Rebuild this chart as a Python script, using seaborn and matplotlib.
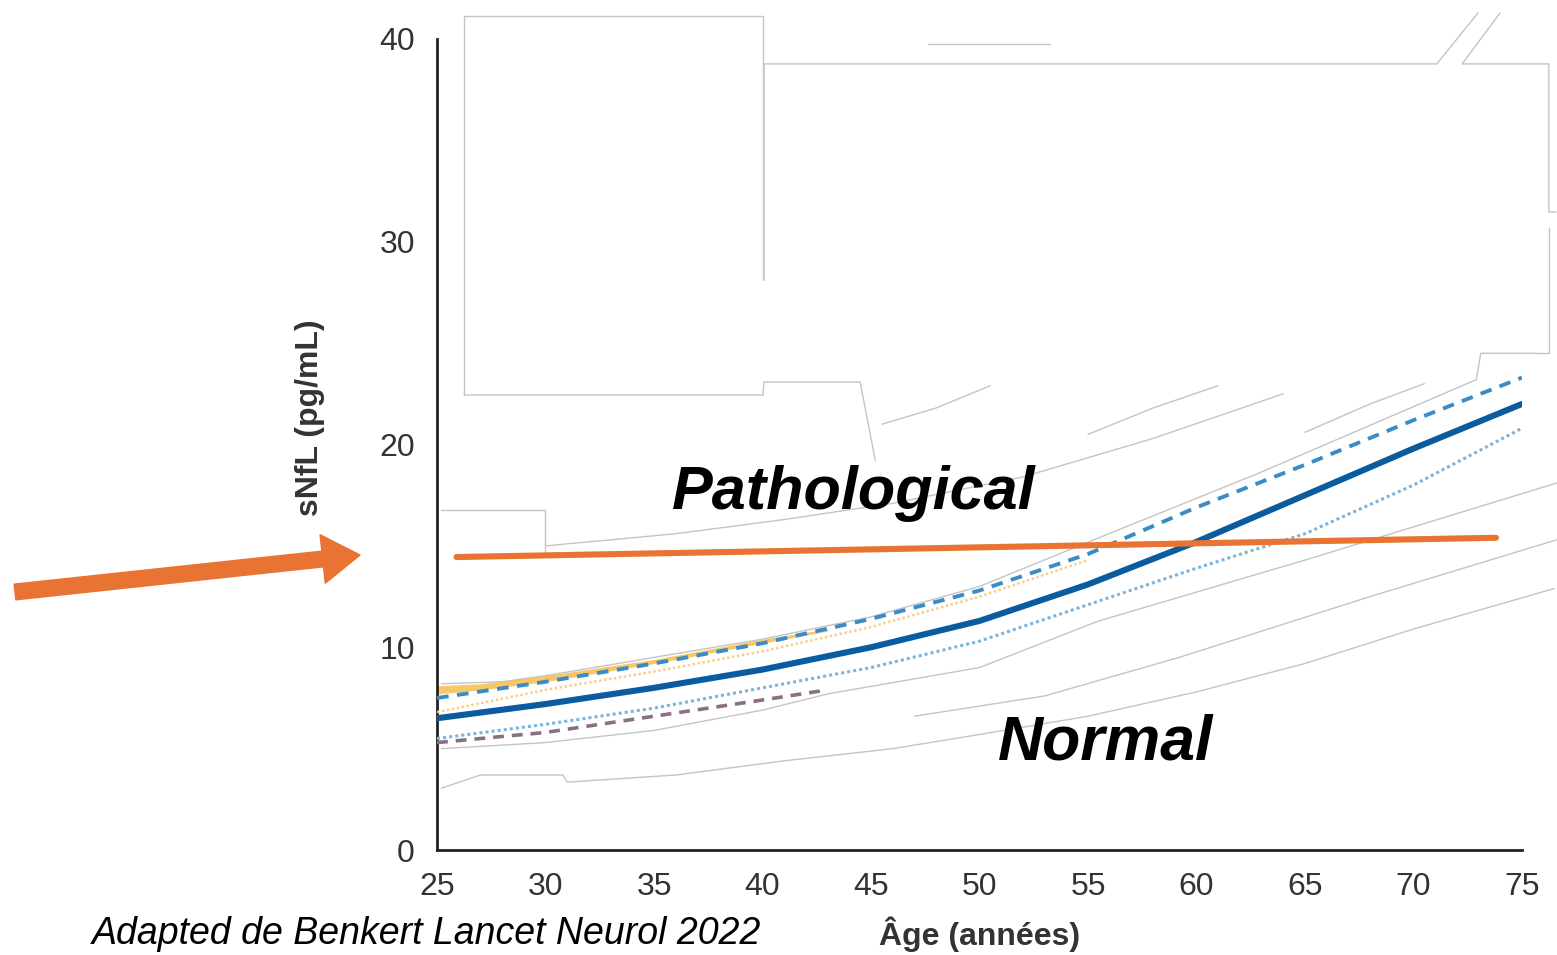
import pandas as pd
import matplotlib.pyplot as plt
import seaborn as sns

# Reference curves, sNfL in pg/mL by age
age = [25, 30, 35, 40, 45, 50, 55, 60, 65, 70, 75]
snfl_median = [6.5, 7.2, 8.0, 8.9, 10.0, 11.3, 13.1, 15.2, 17.5, 19.8, 22.0]
snfl_upper = [7.5, 8.3, 9.2, 10.2, 11.4, 12.8, 14.6, 16.9, 19.0, 21.2, 23.3]
snfl_lower = [5.5, 6.2, 7.0, 8.0, 9.0, 10.3, 12.1, 13.9, 15.6, 18.0, 20.8]

age_short = [25, 30, 35, 40, 43]
snfl_mauve = [5.3, 5.8, 6.6, 7.4, 7.9]
age_yellow = [25, 30, 35, 40, 45, 50, 55]
snfl_yellow = [6.8, 7.9, 8.8, 9.8, 11.0, 12.5, 14.3]

# orange band above the upper curve at young ages
band_age = [25, 27, 30, 35, 40, 43]
band_low = [7.7, 7.9, 8.3, 9.2, 10.2, 10.8]
band_high = [8.1, 8.2, 8.6, 9.4, 10.4, 10.9]

# hand-drawn cut-off line
cutoff_age = [25.9, 73.8]
cutoff_val = [14.45, 15.4]

# faint grey outlines left over from the source image
ghost_lines = [
    ([26.24, 26.24, 40.02, 40.02], [22.44, 41.13, 41.13, 28.11]),
    ([26.24, 40.02, 40.07, 44.5, 45.2], [22.44, 22.44, 23.08, 23.08, 19.2]),
    ([40.07, 40.07, 71.08, 72.97], [28.11, 38.77, 38.77, 41.28]),
    ([73.99, 72.24, 76.24, 76.24, 76.57], [41.28, 38.77, 38.77, 31.47, 31.47]),
    ([76.24, 76.24, 75.6], [30.68, 24.51, 24.51]),
    ([47.63, 53.25], [39.75, 39.75]),
    ([25.18, 29.98, 29.98], [16.77, 16.77, 14.55]),
    ([25.2, 27.0, 30.8, 31.0, 36, 41, 46, 50, 55, 60, 65, 70, 76.5],
     [3.05, 3.7, 3.7, 3.35, 3.7, 4.4, 5.0, 5.7, 6.6, 7.8, 9.2, 10.9, 12.9]),
    ([25.2, 30, 35, 40, 43, 50, 55.5, 65, 76.6], [5.0, 5.3, 5.9, 6.9, 7.7, 9.0, 11.3, 14.3, 18.1]),
    ([47, 53, 59.2, 68, 76.6], [6.6, 7.6, 9.5, 12.5, 15.3]),
    ([25.2, 28, 30, 35, 40, 45, 50, 55.5, 62.9, 72.9, 73.1, 75.6],
     [8.2, 8.3, 8.6, 9.5, 10.4, 11.5, 13.0, 15.4, 18.6, 23.2, 24.5, 24.5]),
    ([30, 36, 41, 46, 52, 58, 64], [15.0, 15.6, 16.3, 17.1, 18.4, 20.3, 22.5]),
    ([45.5, 48, 50.5], [21.0, 21.8, 22.9]),
    ([55, 58, 61], [20.5, 21.8, 22.9]),
    ([65, 68, 70.5], [20.6, 22.0, 23.0]),
]

sns.set_style("white")
plt.rcParams['font.family'] = ['Liberation Sans', 'DejaVu Sans']

fig = plt.figure(figsize=(15.57, 9.55), dpi=100)
ax = fig.add_axes([0.2807, 0.1099, 0.6968, 0.8493])

for gx, gy in ghost_lines:
    ax.plot(gx, gy, color='#c4c4c4', lw=1.0, clip_on=False, zorder=1)

ax.fill_between(band_age, band_low, band_high, color='#f5b93c', alpha=0.8, lw=0, zorder=2)

df = pd.DataFrame({'age': age, 'median': snfl_median, 'upper': snfl_upper, 'lower': snfl_lower})
sns.lineplot(x=age_short, y=snfl_mauve, ax=ax, color='#8a6f86', lw=2.6,
             linestyle=(0, (3, 2.2)), zorder=3)
sns.lineplot(x=age_yellow, y=snfl_yellow, ax=ax, color='#f7cf8a', lw=1.8,
             linestyle=(0, (1, 1)), zorder=3)
sns.lineplot(data=df, x='age', y='lower', ax=ax, color='#7cb4dc', lw=2.2,
             linestyle=(0, (1, 1)), zorder=4)
sns.lineplot(data=df, x='age', y='upper', ax=ax, color='#3a8cc6', lw=2.8,
             linestyle=(0, (3, 2.2)), zorder=4)
sns.lineplot(data=df, x='age', y='median', ax=ax, color='#0a5c9e', lw=4.4, zorder=5)
sns.lineplot(x=cutoff_age, y=cutoff_val, ax=ax, color='#e87332', lw=4.4, zorder=6)

ax.set_xlim(25, 75)
ax.set_ylim(0, 40)
ax.set_xticks(range(25, 80, 5))
ax.set_yticks([0, 10, 20, 30, 40])
for side in ['top', 'right']:
    ax.spines[side].set_visible(False)
for side in ['left', 'bottom']:
    ax.spines[side].set_color('#222222')
    ax.spines[side].set_linewidth(2.0)
ax.tick_params(axis='both', direction='out', length=7, width=1.6, color='#222222',
               labelsize=23, labelcolor='#333333', pad=9)

ax.set_xlabel('Âge (années)', fontsize=23, fontweight='bold', color='#333333', labelpad=10)
ax.set_ylabel('sNfL (pg/mL)', fontsize=23, fontweight='bold', color='#333333')
ax.yaxis.set_label_coords(-0.103, 0.533)

ax.text(44.2, 17.6, 'Pathological', fontsize=44,
        fontweight='bold', fontstyle='italic', ha='center', va='center', color='black')
ax.text(55.8, 5.3, 'Normal', fontsize=45,
        fontweight='bold', fontstyle='italic', ha='center', va='center', color='black')

fig.text(0.059, 0.012, 'Adapted de Benkert Lancet Neurol 2022', fontsize=27,
         fontstyle='italic', color='black')

ax.annotate('', xy=(360, 400), xytext=(15, 363), xycoords='figure pixels',
            textcoords='figure pixels',
            arrowprops=dict(arrowstyle='simple,head_length=1.0,head_width=1.3,tail_width=0.42',
                            color='#e87332', shrinkA=0, shrinkB=0, mutation_scale=27))

fig.savefig('out.png', dpi=100)
